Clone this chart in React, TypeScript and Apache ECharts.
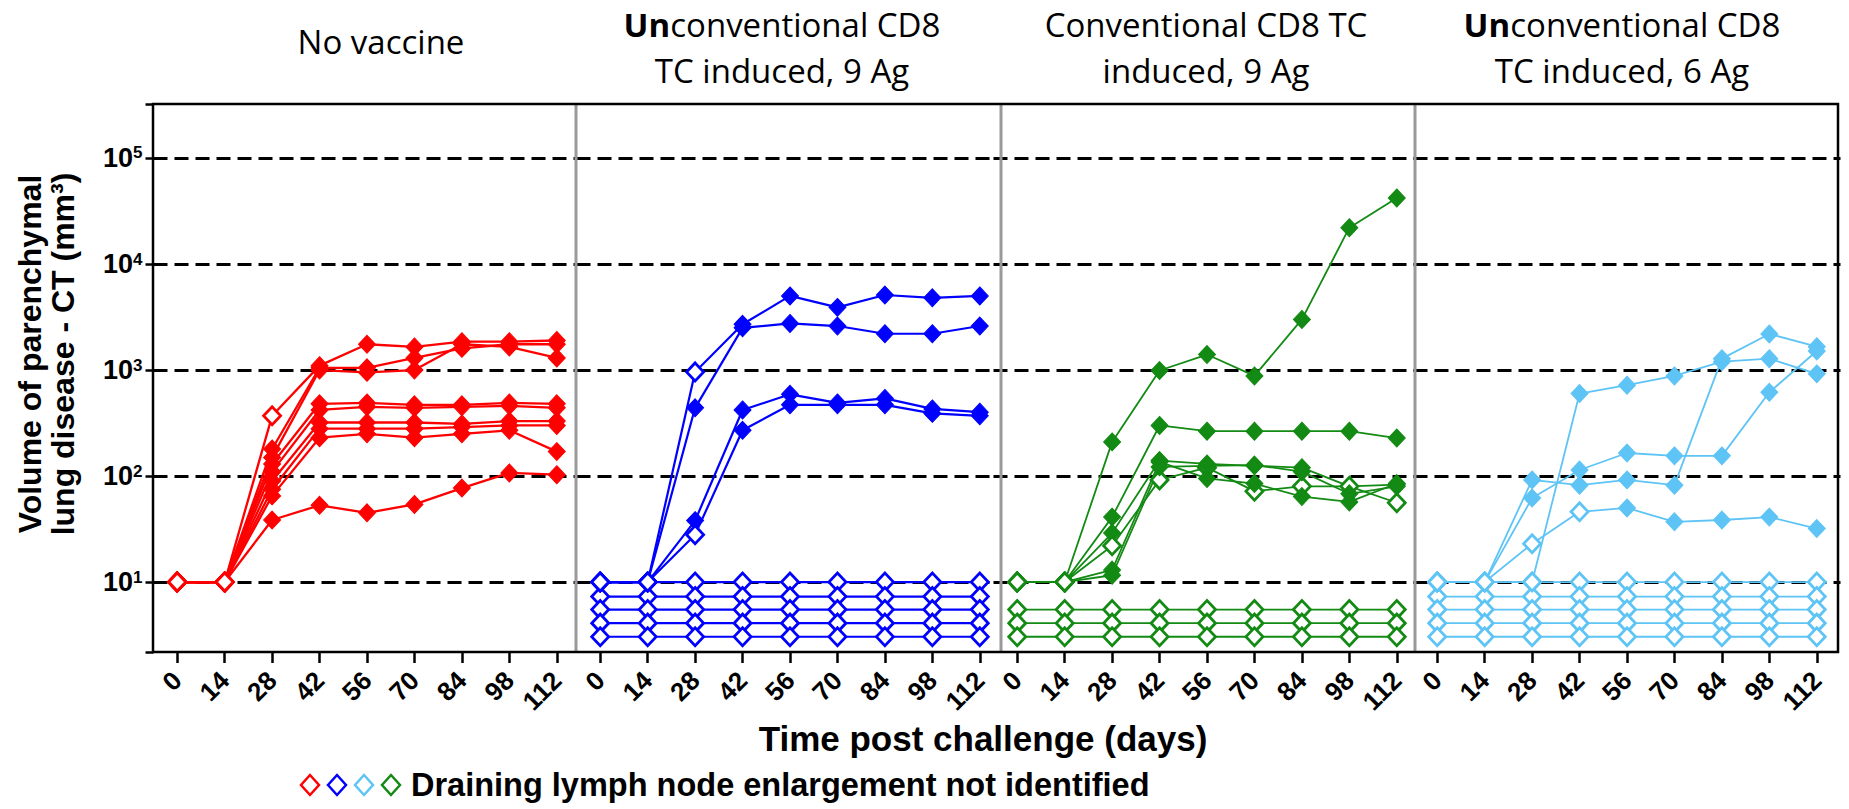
import React, { useEffect, useRef } from 'react';
import * as echarts from 'echarts';

// ---------- data ----------
const days = ['0', '14', '28', '42', '56', '70', '84', '98', '112'];

const panelTitles = [
  '{n|No vaccine}',
  '{b|Un}{n|conventional CD8}\n{n|TC induced, 9 Ag}',
  '{n|Conventional CD8 TC}\n{n|induced, 9 Ag}',
  '{b|Un}{n|conventional CD8}\n{n|TC induced, 6 Ag}',
];
const panelColors = ['#ff0000', '#0000ff', '#138a13', '#5ec4f5'];
const panelLineWidths = [2.3, 2.2, 1.8, 1.8];

// No vaccine (red)
const noVaccineRising = [
  [10, 10, 370, 1100, 1750, 1650, 1850, 1850, 1900],
  [10, 10, 180, 1050, 1050, 1300, 1600, 1750, 1750],
  [10, 10, 150, 1000, 950, 1000, 1750, 1650, 1300],
  [10, 10, 130, 480, 490, 470, 470, 490, 480],
  [10, 10, 110, 420, 450, 440, 450, 460, 440],
  [10, 10, 90, 320, 320, 320, 310, 330, 330],
  [10, 10, 75, 280, 280, 280, 290, 300, 300],
  [10, 10, 65, 230, 250, 230, 250, 270, 170],
  [10, 10, 38.5, 53, 45, 54, 77, 107, 103],
];
const noVaccineOpen = [[0, 1, 2], [0, 1], [0, 1], [0, 1], [0, 1], [0, 1], [0, 1], [0, 1], [0, 1]];
const noVaccineFlat: number[][] = [];

// Unconventional CD8 TC induced, 9 Ag (blue)
const unconv9Rising = [
  [10, 10, 960, 2700, 5000, 3900, 5100, 4800, 5000],
  [10, 10, 440, 2500, 2750, 2600, 2200, 2200, 2600],
  [10, 10, 38, 420, 590, 490, 540, 430, 400],
  [10, 10, 28, 270, 470, 470, 470, 390, 370],
];
const unconv9Open = [[0, 1, 2], [0, 1], [0, 1], [0, 1, 2]];
const unconv9Flat = [
  [10, 10, 10, 10, 10, 10, 10, 10, 10],
  [7.3, 7.3, 7.3, 7.3, 7.3, 7.3, 7.3, 7.3, 7.3],
  [5.5, 5.5, 5.5, 5.5, 5.5, 5.5, 5.5, 5.5, 5.5],
  [4.1, 4.1, 4.1, 4.1, 4.1, 4.1, 4.1, 4.1, 4.1],
  [3.05, 3.05, 3.05, 3.05, 3.05, 3.05, 3.05, 3.05, 3.05],
];

// Conventional CD8 TC induced, 9 Ag (green)
const conv9Rising = [
  [10, 10, 210, 990, 1400, 880, 3000, 22000, 42000],
  [10, 10, 41, 300, 265, 265, 265, 265, 228],
  [10, 10, 29, 140, 130, 125, 120, 80, 83],
  [10, 10, 22, 92, 120, 72, 80, 80, 56],
  [10, 10, 13, 136, 95, 85, 64, 57, 85],
  [10, 10, 11.6, 122, 125, 127, 110, 68, 80],
];
const conv9Open = [[0, 1], [0, 1], [0, 1], [0, 1, 2, 3, 4, 5, 6, 7, 8], [0, 1], [0, 1]];
const conv9Flat = [
  [5.5, 5.5, 5.5, 5.5, 5.5, 5.5, 5.5, 5.5, 5.5],
  [4.1, 4.1, 4.1, 4.1, 4.1, 4.1, 4.1, 4.1, 4.1],
  [3.05, 3.05, 3.05, 3.05, 3.05, 3.05, 3.05, 3.05, 3.05],
];

// Unconventional CD8 TC induced, 6 Ag (light blue)
const unconv6Rising = [
  [10, 10, 10, 600, 720, 880, 1200, 1280, 920],
  [10, 10, 92, 82, 92, 82, 1280, 2190, 1660],
  [10, 10, 62, 114, 165, 155, 155, 617, 1510],
  [10, 10, 23, 46, 50, 37, 38.5, 41, 32],
];
const unconv6Open = [[0, 1, 2], [0, 1], [0, 1], [0, 1, 2, 3]];
const unconv6Flat = [
  [10, 10, 10, 10, 10, 10, 10, 10, 10],
  [7.3, 7.3, 7.3, 7.3, 7.3, 7.3, 7.3, 7.3, 7.3],
  [5.5, 5.5, 5.5, 5.5, 5.5, 5.5, 5.5, 5.5, 5.5],
  [4.1, 4.1, 4.1, 4.1, 4.1, 4.1, 4.1, 4.1, 4.1],
  [3.05, 3.05, 3.05, 3.05, 3.05, 3.05, 3.05, 3.05, 3.05],
];

const yMin = 2.19;
const yMax = 323000;

const yTitleLines = ['Volume of parenchymal', 'lung disease - CT (mm³)'];
const xTitle = 'Time post challenge (days)';
const legendText = 'Draining lymph node enlargement not identified';
const legendColors = ['#ff0000', '#0000ff', '#5ec4f5', '#138a13'];

// ---------- layout ----------
const gridLefts = [153.5, 576.5, 993.5, 1413.5];
const gridWidth = 427;
const plotTop = 104;
const plotHeight = 548;
const frameLeft = 153;
const frameRight = 1838;
const dividers = [576, 1001, 1415];
const titleCenters = [381, 782, 1206, 1622];

const ARIAL = '"Liberation Sans", Arial, Helvetica, sans-serif';
const TITLE_FONT = '"Open Sans", "Noto Sans", sans-serif';

const panelData = [
  { rising: noVaccineRising, open: noVaccineOpen, flat: noVaccineFlat },
  { rising: unconv9Rising, open: unconv9Open, flat: unconv9Flat },
  { rising: conv9Rising, open: conv9Open, flat: conv9Flat },
  { rising: unconv6Rising, open: unconv6Open, flat: unconv6Flat },
];

function buildOption() {
  const grid: any[] = [];
  const xAxis: any[] = [];
  const yAxis: any[] = [];
  const series: any[] = [];

  panelData.forEach((p, i) => {
    const color = panelColors[i];
    grid.push({ left: gridLefts[i], top: plotTop, width: gridWidth, height: plotHeight, show: false });
    xAxis.push({
      type: 'category',
      gridIndex: i,
      data: days,
      boundaryGap: true,
      axisLine: { show: false },
      axisTick: { show: true, alignWithLabel: true, length: 11, lineStyle: { color: '#000', width: 2.5 } },
      axisLabel: {
        interval: 0,
        rotate: 45,
        margin: 24,
        fontSize: 26,
        fontWeight: 'bold',
        fontFamily: ARIAL,
        color: '#000',
      },
      splitLine: { show: false },
    });
    yAxis.push({
      type: 'log',
      logBase: 10,
      gridIndex: i,
      min: yMin,
      max: yMax,
      axisLine: { show: false },
      axisTick: { show: i === 0, length: 8, lineStyle: { color: '#000', width: 2.5 } },
      axisLabel: {
        show: i === 0,
        margin: 11,
        formatter: (v: number) => {
          const l = Math.log10(v);
          const r = Math.round(l);
          if (Math.abs(l - r) < 1e-6) return `{b|10}{s|${r}}`;
          return '';
        },
        rich: {
          b: { fontSize: 27, fontWeight: 'bold', fontFamily: ARIAL, color: '#000' },
          s: { fontSize: 17, fontWeight: 'bold', fontFamily: ARIAL, color: '#000', verticalAlign: 'top' },
        },
      },
      splitLine: {
        show: true,
        showMinLine: false,
        showMaxLine: false,
        lineStyle: { color: '#000', width: 2.8, type: [14, 7] },
      },
    });

    const makeSeries = (vals: number[], openIdx: number[], z: number) => ({
      type: 'line',
      xAxisIndex: i,
      yAxisIndex: i,
      symbol: 'diamond',
      symbolSize: [17, 18],
      z,
      silent: true,
      emphasis: { disabled: true },
      lineStyle: { color, width: panelLineWidths[i] },
      itemStyle: { color },
      data: vals.map((v, k) => ({
        value: v,
        itemStyle: openIdx.includes(k)
          ? { color: '#ffffff', borderColor: color, borderWidth: 2.8 }
          : { color, borderColor: color, borderWidth: 1 },
      })),
    });

    p.flat.forEach((vals) => {
      series.push(makeSeries(vals, [0, 1, 2, 3, 4, 5, 6, 7, 8], 2));
    });
    p.rising.forEach((vals, j) => {
      series.push(makeSeries(vals, p.open[j], 3));
    });
  });

  const graphic: any[] = [];
  // frame
  graphic.push({
    type: 'rect',
    z: 100,
    silent: true,
    shape: { x: frameLeft, y: plotTop, width: frameRight - frameLeft, height: plotHeight },
    style: { fill: 'none', stroke: '#000', lineWidth: 2.5 },
  });
  dividers.forEach((x) => {
    graphic.push({
      type: 'line',
      z: 99,
      silent: true,
      shape: { x1: x, y1: plotTop + 1, x2: x, y2: plotTop + plotHeight - 1 },
      style: { stroke: '#9a9a9a', lineWidth: 3 },
    });
  });
  // panel titles
  panelTitles.forEach((t, i) => {
    graphic.push({
      type: 'text',
      x: titleCenters[i],
      y: i === 0 ? 41 : 47,
      silent: true,
      style: {
        text: t,
        align: 'center',
        verticalAlign: 'middle',
        rich: {
          n: { fontSize: 33, fontFamily: TITLE_FONT, fontWeight: 'normal', fill: '#000', lineHeight: 46 },
          b: { fontSize: 33, fontFamily: TITLE_FONT, fontWeight: 'bold', fill: '#000', lineHeight: 46 },
        },
      },
    });
  });
  // y title
  yTitleLines.forEach((t, i) => {
    graphic.push({
      type: 'text',
      x: i === 0 ? 30 : 63,
      y: 354,
      rotation: Math.PI / 2,
      silent: true,
      style: {
        text: t,
        align: 'center',
        verticalAlign: 'middle',
        fontSize: 32,
        fontWeight: 'bold',
        fontFamily: ARIAL,
        fill: '#000',
      },
    });
  });
  // x title
  graphic.push({
    type: 'text',
    x: 983,
    y: 738,
    silent: true,
    style: {
      text: xTitle,
      align: 'center',
      verticalAlign: 'middle',
      fontSize: 35,
      fontWeight: 'bold',
      fontFamily: ARIAL,
      fill: '#000',
    },
  });
  // legend
  legendColors.forEach((c, i) => {
    const cx = 310 + i * 27;
    const cy = 785;
    graphic.push({
      type: 'polygon',
      silent: true,
      shape: { points: [[cx, cy - 10], [cx + 9, cy], [cx, cy + 10], [cx - 9, cy]] },
      style: { fill: '#fff', stroke: c, lineWidth: 2.5 },
    });
  });
  graphic.push({
    type: 'text',
    x: 411,
    y: 785,
    silent: true,
    style: {
      text: legendText,
      align: 'left',
      verticalAlign: 'middle',
      fontSize: 32.5,
      fontWeight: 'bold',
      fontFamily: ARIAL,
      fill: '#000',
    },
  });

  return {
    animation: false,
    backgroundColor: '#ffffff',
    grid,
    xAxis,
    yAxis,
    series,
    graphic,
  };
}

export default function App() {
  const ref = useRef<HTMLDivElement>(null);
  useEffect(() => {
    if (!ref.current) return;
    const chart = echarts.init(ref.current, null, { renderer: 'svg' });
    chart.setOption(buildOption() as any);
    return () => chart.dispose();
  }, []);
  return (
    <div
      ref={ref}
      style={{ position: 'absolute', left: 0, top: 0, width: 1849, height: 809, background: '#fff' }}
    />
  );
}
